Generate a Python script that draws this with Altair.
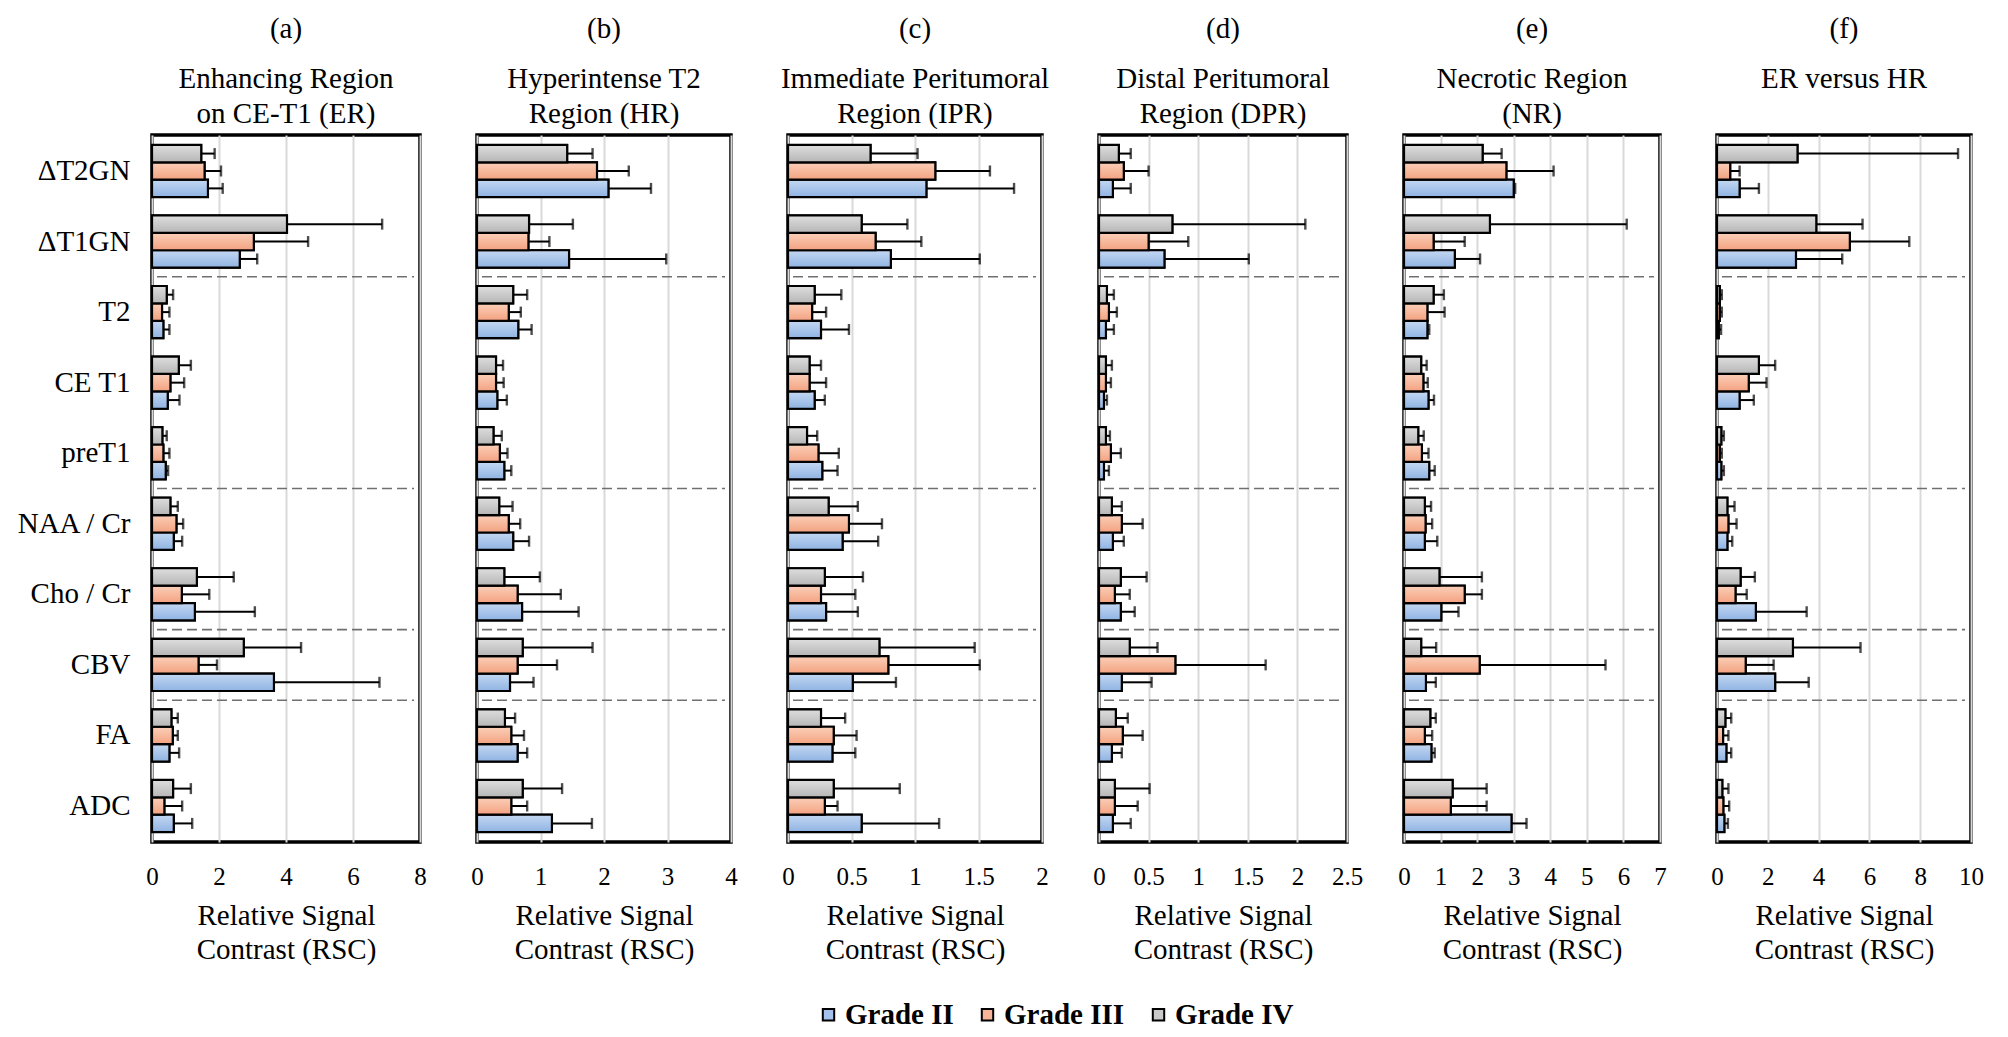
import altair as alt
import pandas as pd

FONT = "Liberation Serif"

categories = ["ΔT2GN", "ΔT1GN", "T2", "CE T1", "preT1", "NAA / Cr", "Cho / Cr", "CBV", "FA", "ADC"]
grades = ["Grade II", "Grade III", "Grade IV"]
stack_order = ["Grade IV", "Grade III", "Grade II"]
separators_above = ["T2", "NAA / Cr", "CBV", "FA"]

# (a) Enhancing Region on CE-T1 (ER)
er_g2 = [1.67, 2.62, 0.34, 0.47, 0.41, 0.65, 1.28, 3.64, 0.52, 0.65]
er_g2_sd = [0.44, 0.52, 0.18, 0.35, 0.07, 0.25, 1.79, 3.15, 0.29, 0.55]
er_g3 = [1.57, 3.04, 0.30, 0.55, 0.34, 0.73, 0.89, 1.39, 0.62, 0.37]
er_g3_sd = [0.49, 1.62, 0.22, 0.41, 0.18, 0.20, 0.82, 0.55, 0.15, 0.53]
er_g4 = [1.47, 4.03, 0.44, 0.80, 0.31, 0.55, 1.34, 2.74, 0.58, 0.63]
er_g4_sd = [0.40, 2.84, 0.19, 0.36, 0.13, 0.22, 1.10, 1.71, 0.19, 0.53]

# (b) Hyperintense T2 Region (HR)
hr_g2 = [2.07, 1.45, 0.65, 0.32, 0.43, 0.57, 0.71, 0.52, 0.64, 1.18]
hr_g2_sd = [0.67, 1.53, 0.21, 0.15, 0.11, 0.25, 0.89, 0.37, 0.15, 0.63]
hr_g3 = [1.89, 0.81, 0.50, 0.30, 0.36, 0.50, 0.64, 0.64, 0.54, 0.54]
hr_g3_sd = [0.50, 0.33, 0.19, 0.12, 0.12, 0.18, 0.68, 0.62, 0.20, 0.25]
hr_g4 = [1.42, 0.82, 0.57, 0.30, 0.26, 0.35, 0.43, 0.72, 0.44, 0.72]
hr_g4_sd = [0.40, 0.69, 0.22, 0.11, 0.13, 0.21, 0.56, 1.10, 0.16, 0.62]

# (c) Immediate Peritumoral Region (IPR)
ipr_g2 = [1.09, 0.81, 0.26, 0.21, 0.27, 0.43, 0.30, 0.51, 0.35, 0.58]
ipr_g2_sd = [0.69, 0.70, 0.22, 0.08, 0.12, 0.28, 0.25, 0.34, 0.18, 0.61]
ipr_g3 = [1.16, 0.69, 0.19, 0.17, 0.24, 0.48, 0.26, 0.79, 0.36, 0.29]
ipr_g3_sd = [0.43, 0.36, 0.11, 0.13, 0.16, 0.26, 0.27, 0.72, 0.18, 0.10]
ipr_g4 = [0.65, 0.58, 0.21, 0.17, 0.15, 0.32, 0.29, 0.72, 0.26, 0.36]
ipr_g4_sd = [0.37, 0.36, 0.21, 0.09, 0.08, 0.23, 0.30, 0.75, 0.19, 0.52]

# (d) Distal Peritumoral Region (DPR)
dpr_g2 = [0.14, 0.66, 0.07, 0.05, 0.05, 0.14, 0.22, 0.23, 0.13, 0.14]
dpr_g2_sd = [0.18, 0.85, 0.08, 0.03, 0.05, 0.11, 0.14, 0.30, 0.10, 0.18]
dpr_g3 = [0.25, 0.50, 0.10, 0.07, 0.12, 0.23, 0.16, 0.77, 0.24, 0.16]
dpr_g3_sd = [0.25, 0.40, 0.08, 0.05, 0.10, 0.21, 0.15, 0.91, 0.20, 0.23]
dpr_g4 = [0.20, 0.74, 0.08, 0.07, 0.07, 0.13, 0.22, 0.31, 0.17, 0.16]
dpr_g4_sd = [0.12, 1.34, 0.07, 0.06, 0.04, 0.10, 0.26, 0.28, 0.12, 0.35]

# (e) Necrotic Region (NR)
nr_g2 = [3.00, 1.39, 0.64, 0.67, 0.69, 0.57, 1.02, 0.60, 0.75, 2.94]
nr_g2_sd = [0.04, 0.69, 0.05, 0.15, 0.15, 0.34, 0.47, 0.27, 0.09, 0.41]
nr_g3 = [2.80, 0.81, 0.64, 0.53, 0.49, 0.59, 1.66, 2.07, 0.57, 1.28]
nr_g3_sd = [1.29, 0.85, 0.47, 0.12, 0.18, 0.18, 0.47, 3.44, 0.20, 0.98]
nr_g4 = [2.15, 2.35, 0.81, 0.47, 0.39, 0.57, 0.97, 0.47, 0.72, 1.33]
nr_g4_sd = [0.52, 3.74, 0.28, 0.15, 0.15, 0.17, 1.16, 0.41, 0.15, 0.93]

# (f) ER versus HR
evh_g2 = [0.89, 3.11, 0.07, 0.89, 0.17, 0.41, 1.53, 2.29, 0.37, 0.29]
evh_g2_sd = [0.76, 1.82, 0.09, 0.56, 0.10, 0.19, 2.00, 1.32, 0.19, 0.14]
evh_g3 = [0.52, 5.23, 0.11, 1.25, 0.11, 0.45, 0.73, 1.13, 0.24, 0.25]
evh_g3_sd = [0.37, 2.34, 0.08, 0.70, 0.08, 0.32, 0.44, 1.10, 0.21, 0.23]
evh_g4 = [3.17, 3.91, 0.11, 1.65, 0.17, 0.41, 0.93, 2.99, 0.33, 0.21]
evh_g4_sd = [6.32, 1.82, 0.08, 0.64, 0.10, 0.28, 0.56, 2.66, 0.23, 0.24]

panel_letters = ["(a)", "(b)", "(c)", "(d)", "(e)", "(f)"]
panel_titles = [
    ["Enhancing Region", "on CE-T1 (ER)"],
    ["Hyperintense T2", "Region (HR)"],
    ["Immediate Peritumoral", "Region (IPR)"],
    ["Distal Peritumoral", "Region (DPR)"],
    ["Necrotic Region", "(NR)"],
    ["ER versus HR", " "],
]
x_max = [8, 4, 2, 2.5, 7, 10]
x_ticks = [[0, 2, 4, 6, 8], [0, 1, 2, 3, 4], [0, 0.5, 1, 1.5, 2],
           [0, 0.5, 1, 1.5, 2, 2.5], [0, 1, 2, 3, 4, 5, 6, 7], [0, 2, 4, 6, 8, 10]]
panel_widths = [268, 254, 254, 248, 256, 254]
panel_data = [
    (er_g2, er_g2_sd, er_g3, er_g3_sd, er_g4, er_g4_sd),
    (hr_g2, hr_g2_sd, hr_g3, hr_g3_sd, hr_g4, hr_g4_sd),
    (ipr_g2, ipr_g2_sd, ipr_g3, ipr_g3_sd, ipr_g4, ipr_g4_sd),
    (dpr_g2, dpr_g2_sd, dpr_g3, dpr_g3_sd, dpr_g4, dpr_g4_sd),
    (nr_g2, nr_g2_sd, nr_g3, nr_g3_sd, nr_g4, nr_g4_sd),
    (evh_g2, evh_g2_sd, evh_g3, evh_g3_sd, evh_g4, evh_g4_sd),
]

solid_colors = ["#a4c2ec", "#f6b498", "#cacaca"]
gradients = {
    "Grade II": ["#c4d8f3", "#8fb3e2"],
    "Grade III": ["#fbcfb8", "#f3a281"],
    "Grade IV": ["#dedede", "#b6b6b6"],
}

HEIGHT = 707
P_INNER = 0.26
P_OUTER = 0.14
STEP = HEIGHT / (len(categories) - P_INNER + 2 * P_OUTER)
SEP_SHIFT = -STEP * P_INNER / 2

legend = alt.Legend(
    orient="none", legendX=662, legendY=865, direction="horizontal", title=None,
    symbolType="square", symbolSize=130, symbolStrokeColor="black", symbolStrokeWidth=2,
    symbolOpacity=1, labelFont=FONT, labelFontSize=29, labelFontWeight="bold",
    labelColor="black", labelOffset=2, columnPadding=19,
)


def make_panel(i):
    g2, g2sd, g3, g3sd, g4, g4sd = panel_data[i]
    rows = []
    for grade, means, sds in (("Grade II", g2, g2sd), ("Grade III", g3, g3sd), ("Grade IV", g4, g4sd)):
        for c, m, s in zip(categories, means, sds):
            rows.append({"category": c, "grade": grade, "mean": m, "sd": s})
    df = pd.DataFrame(rows)
    sep_df = pd.DataFrame({"category": separators_above})
    w = panel_widths[i]

    if i == 0:
        y_axis = alt.Axis(title=None, ticks=False, domain=False, labelFont=FONT, labelFontSize=29,
                          labelColor="black", labelPadding=22, labelLimit=400)
    else:
        y_axis = None
    y_scale = alt.Scale(domain=categories, paddingInner=P_INNER, paddingOuter=P_OUTER)
    y = alt.Y("category:N", scale=y_scale, axis=y_axis, sort=categories)
    yoff = alt.YOffset("grade:N", scale=alt.Scale(domain=stack_order, paddingInner=0, paddingOuter=0))
    x_scale = alt.Scale(domain=[0, x_max[i]], nice=False, zero=True)
    x_axis = alt.Axis(
        values=x_ticks[i], format="~r", grid=True, gridColor="#d9d9d9", gridWidth=2,
        ticks=False, tickSize=0, domain=False, labelFont=FONT, labelFontSize=25,
        labelColor="black", labelPadding=22, labelFlush=False, labelOverlap=False,
        title=["Relative Signal", "Contrast (RSC)"], titleFont=FONT, titleFontSize=29,
        titleFontWeight="normal", titleColor="black", titleLineHeight=34, titlePadding=12,
    )
    x = alt.X("mean:Q", scale=x_scale, axis=x_axis)
    x_up = alt.X("upper:Q", scale=x_scale, axis=x_axis)

    base = alt.Chart(df)
    seps = alt.Chart(sep_df).mark_rule(
        color="#707070", strokeDash=[10, 5], strokeWidth=1.6, yOffset=SEP_SHIFT
    ).encode(
        y=alt.Y("category:N", scale=y_scale, axis=y_axis, sort=categories, bandPosition=0),
        x=alt.value(5),
        x2=alt.value(w - 6),
    )
    solid = base.mark_bar(stroke="black", strokeWidth=2).encode(
        y=y, yOffset=yoff, x=x,
        color=alt.Color("grade:N", scale=alt.Scale(domain=grades, range=solid_colors), legend=legend),
    )
    layers = [seps, solid]
    for g in grades:
        c0, c1 = gradients[g]
        grad = alt.Gradient(gradient="linear", x1=0, y1=0, x2=0, y2=1,
                            stops=[alt.GradientStop(offset=0, color=c0), alt.GradientStop(offset=1, color=c1)])
        layers.append(
            base.transform_filter(alt.datum.grade == g)
            .mark_bar(fill=grad, stroke="black", strokeWidth=2.2)
            .encode(y=y, yOffset=yoff, x=x)
        )
    err = base.transform_calculate(upper="datum.mean + datum.sd")
    layers.append(err.mark_rule(color="black", strokeWidth=2).encode(
        y=y, yOffset=yoff, x=x, x2="upper:Q"))
    layers.append(err.mark_tick(color="black", thickness=2.4, size=11).encode(
        y=y, yOffset=yoff, x=x_up))

    title = alt.TitleParams(
        text=panel_letters[i], subtitle=panel_titles[i], font=FONT, fontSize=29, fontWeight="normal",
        color="black", subtitleFont=FONT, subtitleFontSize=29, subtitleColor="black",
        subtitleFontWeight="normal", subtitleLineHeight=35, subtitlePadding=21, offset=6,
        anchor="middle",
    )
    return alt.layer(*layers).properties(width=w, height=HEIGHT, title=title)


panels = [make_panel(i) for i in range(6)]
chart = (
    alt.hconcat(*panels, spacing=57, bounds="flush")
    .configure(font=FONT)
    .configure_view(stroke="black", strokeWidth=3.5)
)

chart.save("out.html", embed_options={"renderer": "svg", "actions": False})
